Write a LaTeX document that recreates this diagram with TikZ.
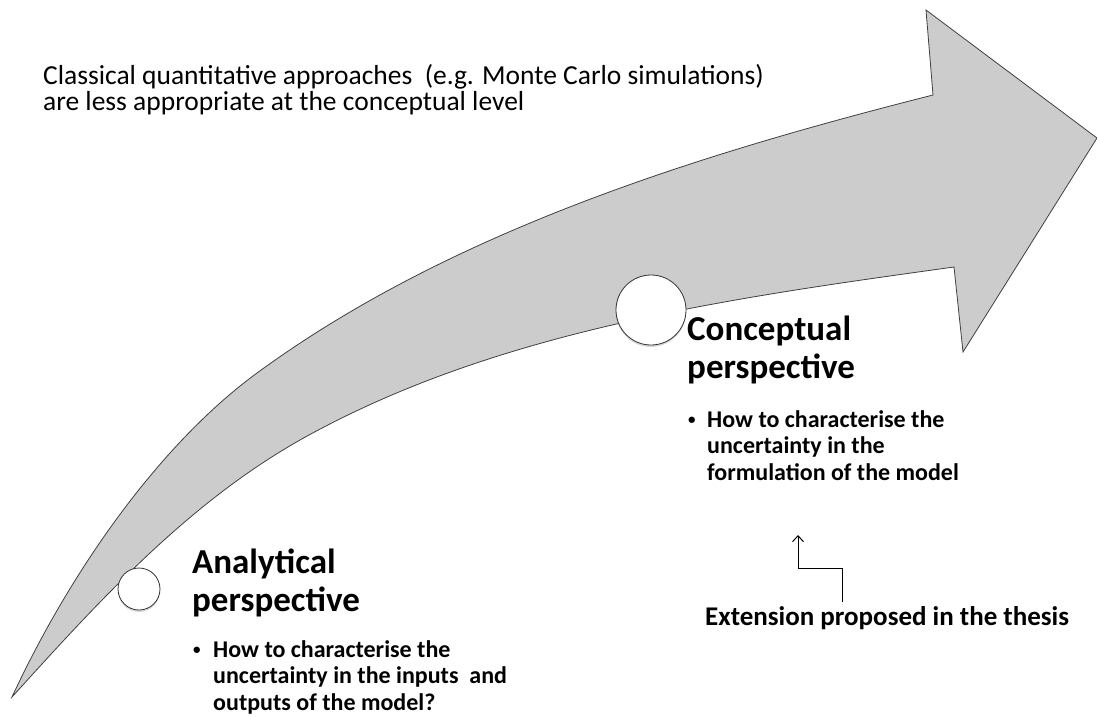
\documentclass[tikz,border=0pt]{standalone}
\usepackage{fontspec}
\setmainfont{Carlito}
\usetikzlibrary{shadows,arrows.meta}

\newcommand{\smallbul}{\raisebox{2.5pt}{\fontsize{15}{15}\selectfont\textbullet}}

\begin{document}
\begin{tikzpicture}[x=1pt, y=-1pt,
	band/.style={fill=black!20, draw=black!75, line width=0.8pt},
	dot/.style={circle, fill=white, draw=black!80, line width=0.8pt, inner sep=0pt,
		drop shadow={shadow xshift=0pt, shadow yshift=-2pt, opacity=0.3}},
	title/.style={anchor=north west, inner sep=0pt, align=left, font=\bfseries\fontsize{35}{38}\selectfont},
	bul/.style={anchor=north west, inner sep=0pt, align=left, font=\bfseries\fontsize{24}{26.5}\selectfont}]
		\useasboundingbox (0,0) rectangle (1097,716);
		
		% the big curved arrow
		\filldraw[band] (12,697) .. controls (71,570) and (160,444) .. (257,373)
			.. controls (451,231) and (700,154) .. (933,95)
			-- (926,10) -- (1097,138) -- (963,352) -- (954,267)
			.. controls (731,298) and (496,330) .. (300,440)
			.. controls (187,504) and (99,601) .. (12,697) -- cycle;
		
		\node[dot, minimum size=70pt] (cdot) at (651,310) {};
		\node[dot, minimum size=42pt] (adot) at (139,589) {};
		
		\node[anchor=north west, inner sep=0pt, align=left, font=\fontsize{27.5}{26}\selectfont] (note) at (43,64)
			{Classical quantitative approaches\ \ (e.g. Monte Carlo simulations)\\are less appropriate at the conceptual level};
		
		\node[title] (ctitle) at (687,316) {Conceptual\\perspective};
		\node[bul] (cbul) at (688,410) {\makebox[19pt][l]{\smallbul}How to characterise the\\\hspace*{19pt}uncertainty in the\\\hspace*{19pt}formulation of the model};
		
		\node[title] (atitle) at (192,549) {Analytical\\perspective};
		\node[bul] (abul) at (193,640) {\makebox[20pt][l]{\smallbul}How to characterise the\\\hspace*{20pt}uncertainty in the inputs\ \ and\\\hspace*{20pt}outputs of the model?};
		
		\node[anchor=base west, inner sep=0pt, font=\bfseries\fontsize{27}{30}\selectfont] (ext) at (705,625) {Extension proposed in the thesis};
		\coordinate (extfoot) at (842,602);
		\coordinate (exttip) at (798,535);
		\draw[-{Straight Barb[length=6pt, width=11pt]}, line width=1pt] (extfoot) -- ++(0,-34) -| (exttip);
	\end{tikzpicture}
\end{document}
